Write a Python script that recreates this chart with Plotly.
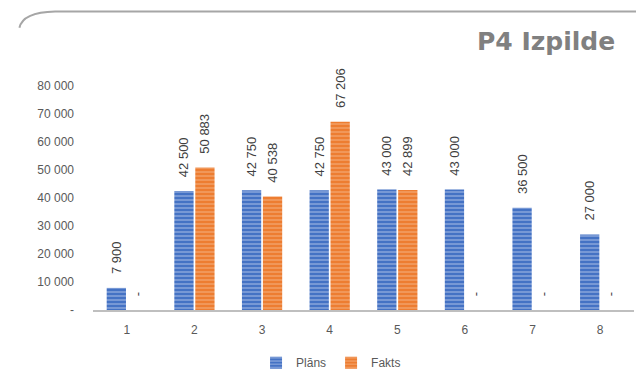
import plotly.graph_objects as go

categories = ["1", "2", "3", "4", "5", "6", "7", "8"]
plans = [7900, 42500, 42750, 42750, 43000, 43000, 36500, 27000]
fakts = [None, 50883, 40538, 67206, 42899, None, None, None]
ytick_vals = [0, 10000, 20000, 30000, 40000, 50000, 60000, 70000, 80000]
ytick_text = ["-", "10 000", "20 000", "30 000", "40 000", "50 000", "60 000", "70 000", "80 000"]

PAD = "\u00a0\u00a0\u00a0"

def fmt(v):
    return PAD + ("-" if v is None else f"{v:,}".replace(",", " "))

fig = go.Figure()
fig.add_trace(go.Bar(
    x=categories, y=plans, name="Plāns",
    text=[fmt(v) for v in plans], textposition="outside", textangle=-90,
    constraintext="none",
    textfont=dict(color="#404040", size=13, family="Liberation Sans"),
    marker=dict(color="#4472C4", line=dict(width=0),
                pattern=dict(shape="-", fgcolor="#D6E0F4", bgcolor="#4472C4",
                             size=4, solidity=0.35, fillmode="overlay")),
    cliponaxis=False,
))
fig.add_trace(go.Bar(
    x=categories, y=[0 if v is None else v for v in fakts], name="Fakts",
    text=[fmt(v) for v in fakts], textposition="outside", textangle=-90,
    constraintext="none",
    textfont=dict(color="#404040", size=13, family="Liberation Sans"),
    marker=dict(color="#ED7D31", line=dict(width=0),
                pattern=dict(shape="-", fgcolor="#FAD3B8", bgcolor="#ED7D31",
                             size=4, solidity=0.3, fillmode="overlay")),
    cliponaxis=False,
))

fig.update_layout(
    width=636, height=373,
    margin=dict(l=93, r=2, t=86, b=63, autoexpand=False),
    paper_bgcolor="white", plot_bgcolor="white",
    barmode="group", bargap=0.38, bargroupgap=0.08,
    font=dict(family="Liberation Sans", color="#595959", size=12),
    showlegend=True,
    legend=dict(orientation="h", x=0.44, xanchor="center", y=-0.235, yanchor="middle",
                font=dict(size=12, color="#595959"), itemwidth=30),
    xaxis=dict(showline=True, linecolor="#BFBFBF", linewidth=2, ticks="",
               showgrid=False, ticklabelstandoff=8,
               tickfont=dict(size=12, color="#595959")),
    yaxis=dict(range=[0, 80000], tickvals=ytick_vals, ticktext=ytick_text,
               showgrid=False, zeroline=False, showline=False,
               ticklabelstandoff=18, tickfont=dict(size=12, color="#595959")),
    annotations=[dict(text="<b>P4 Izpilde</b>", xref="paper", yref="paper",
                      x=1.0, xanchor="right", y=1.0, yanchor="bottom", yshift=28, xshift=-17,
                      showarrow=False,
                      font=dict(size=25, color="#808080", family="DejaVu Sans"))],
    shapes=[dict(type="path", xref="paper", yref="paper", layer="above",
                 path="M -0.136 1.26 Q -0.13 1.33 -0.07 1.333 L 1.01 1.333",
                 line=dict(color="#A6A6A6", width=2))],
)

fig.write_html("out.html")
